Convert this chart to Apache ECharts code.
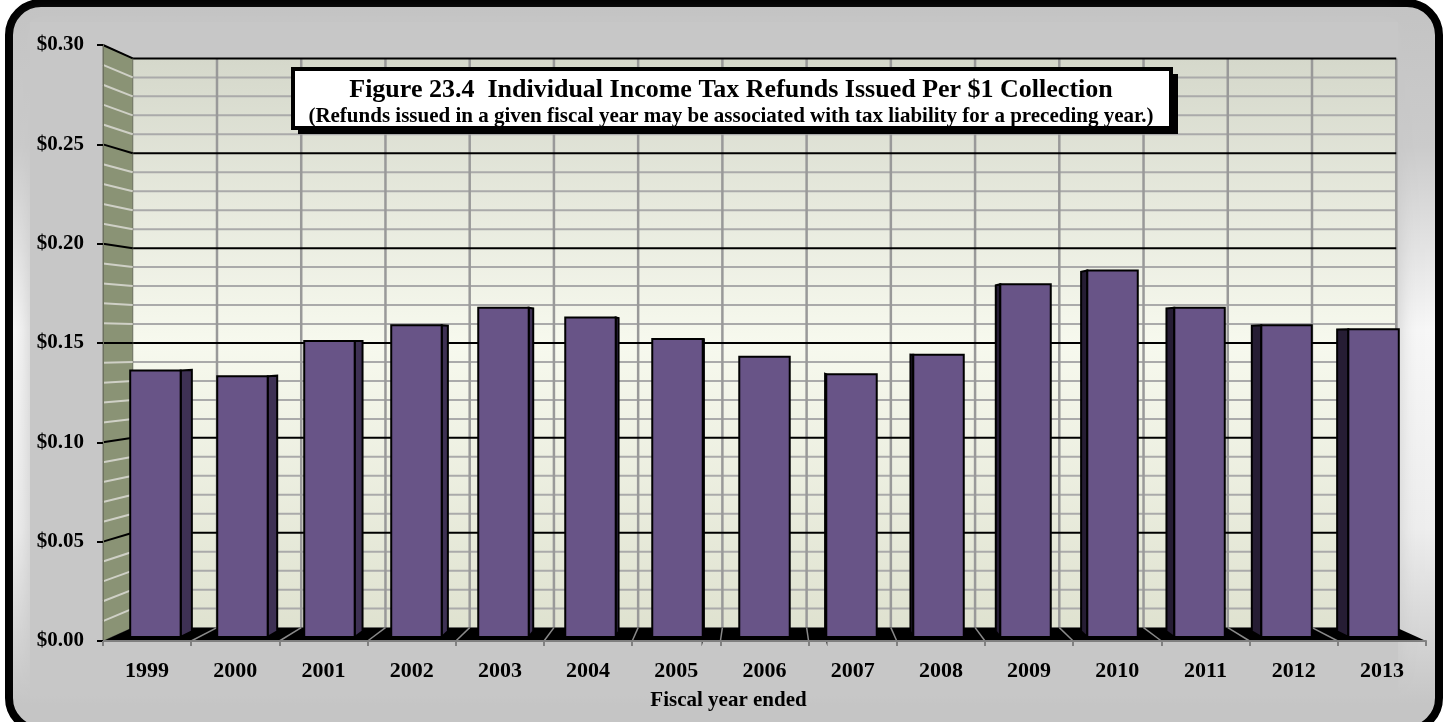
<!DOCTYPE html>
<html>
<head>
<meta charset="utf-8">
<script src="https://cdn.jsdelivr.net/npm/echarts@6/dist/echarts.min.js"></script>
<style>
  html, body { margin: 0; padding: 0; background: #ffffff; }
  #chart { width: 1446px; height: 722px; }
</style>
</head>
<body>
<div id="chart"></div>
<script>
// ---- data ----
const years = ['1999', '2000', '2001', '2002', '2003', '2004', '2005', '2006',
               '2007', '2008', '2009', '2010', '2011', '2012', '2013'];
const refundsPerDollar = [0.136, 0.133, 0.151, 0.159, 0.168, 0.163, 0.152, 0.143,
                          0.134, 0.144, 0.180, 0.187, 0.168, 0.159, 0.157];
const yMin = 0;
const yMax = 0.30;
const yMajorStep = 0.05;
const yMinorStep = 0.01;
const titleText = 'Figure 23.4  Individual Income Tax Refunds Issued Per $1 Collection';
const subtitleText = '(Refunds issued in a given fiscal year may be associated with tax liability for a preceding year.)';
const xAxisName = 'Fiscal year ended';

// ---- 3-D box styling ----
const SERIF = "'Liberation Serif', 'Times New Roman', serif";
const BACK_SCALE = 0.955;   // back wall size relative to the front plane
const BAR_DEPTH_FRONT = 0.30;
const BAR_DEPTH_BACK = 0.72;
const BAR_WIDTH_RATIO = 0.58;

// perspective toward the centre of the plot
function project(pt, depth, vp) {
  const s = 1 - (1 - BACK_SCALE) * depth;
  return [vp[0] + (pt[0] - vp[0]) * s, vp[1] + (pt[1] - vp[1]) * s];
}

function vanishingPoint(cs) {
  return [cs.x + cs.width / 2, cs.y + cs.height / 2];
}

function renderWalls(params, api) {
  const cs = params.coordSys;
  const L = cs.x, R = cs.x + cs.width, T = cs.y, B = cs.y + cs.height;
  const vp = vanishingPoint(cs);
  const back = p => project(p, 1, vp);
  const band = api.size([1, 0])[0];
  const n = years.length;
  const children = [];
  const line = (a, b, stroke, lw) => ({
    type: 'line', shape: { x1: a[0], y1: a[1], x2: b[0], y2: b[1] },
    style: { stroke: stroke, lineWidth: lw }
  });

  // back wall
  const bTL = back([L, T]), bBR = back([R, B]);
  children.push({
    type: 'rect',
    shape: { x: bTL[0], y: bTL[1], width: bBR[0] - bTL[0], height: bBR[1] - bTL[1] },
    style: {
      fill: new echarts.graphic.LinearGradient(0, 0, 0, 1, [
        { offset: 0, color: '#d5d8cb' },
        { offset: 0.5, color: '#f7f9ee' },
        { offset: 1, color: '#dfe2d0' }
      ])
    }
  });

  const minorCount = Math.round((yMax - yMin) / yMinorStep);
  const perMajor = Math.round(yMajorStep / yMinorStep);
  const levels = [];
  for (let k = 1; k <= minorCount; k++) {
    const v = yMin + k * yMinorStep;
    levels.push({ y: api.coord([0, v])[1], major: k % perMajor === 0 });
  }

  // back wall gridlines
  levels.filter(l => !l.major).forEach(l => {
    children.push(line(back([L, l.y]), back([R, l.y]), '#aaaaaa', 2));
  });
  for (let i = 1; i <= n; i++) {
    const x = L + i * band;
    children.push(line(back([x, T]), back([x, B]), '#999999', 2.5));
  }
  levels.filter(l => l.major).forEach(l => {
    children.push(line(back([L, l.y]), back([R, l.y]), '#000000', 2));
  });

  // left side wall
  children.push({
    type: 'polygon',
    shape: { points: [[L, T], back([L, T]), back([L, B]), [L, B]] },
    style: { fill: '#8a9375', stroke: '#6c705f', lineWidth: 1 }
  });
  levels.filter(l => !l.major).forEach(l => {
    children.push(line([L, l.y], back([L, l.y]), '#cfd0c6', 2));
  });
  levels.filter(l => l.major).forEach(l => {
    children.push(line([L, l.y], back([L, l.y]), '#000000', 2));
  });

  // floor
  children.push({
    type: 'polygon',
    shape: { points: [[L, B], [R, B], back([R, B]), back([L, B])] },
    style: { fill: '#000000' }
  });
  for (let i = 1; i < n; i++) {
    const x = L + i * band;
    children.push(line([x, B], back([x, B]), '#8a8a8a', 1.5));
  }

  return { type: 'group', children: children };
}

function renderBar(params, api) {
  const cs = params.coordSys;
  const vp = vanishingPoint(cs);
  const i = api.value(0);
  const v = api.value(1);
  const band = api.size([1, 0])[0];
  const top = api.coord([i, v]);
  const base = api.coord([i, yMin]);
  const hw = band * BAR_WIDTH_RATIO / 2;
  const xl = top[0] - hw, xr = top[0] + hw, yt = top[1], yb = base[1];
  const P = (x, y, d) => project([x, y], d, vp);
  const d1 = BAR_DEPTH_FRONT, d2 = BAR_DEPTH_BACK;
  const edge = { stroke: '#000000', lineWidth: 2, lineJoin: 'miter' };
  const children = [];

  // the visible side face depends on which side of the vanishing point the bar sits
  if (xr < vp[0]) {
    children.push({
      type: 'polygon',
      shape: { points: [P(xr, yt, d1), P(xr, yt, d2), P(xr, yb, d2), P(xr, yb, d1)] },
      style: Object.assign({ fill: '#3e3154' }, edge)
    });
  } else if (xl > vp[0]) {
    children.push({
      type: 'polygon',
      shape: { points: [P(xl, yt, d1), P(xl, yt, d2), P(xl, yb, d2), P(xl, yb, d1)] },
      style: Object.assign({ fill: '#261d34' }, edge)
    });
  }
  children.push({
    type: 'polygon',
    shape: { points: [P(xl, yt, d1), P(xr, yt, d1), P(xr, yb, d1), P(xl, yb, d1)] },
    style: Object.assign({ fill: '#685487' }, edge)
  });
  return { type: 'group', children: children };
}

const chart = echarts.init(document.getElementById('chart'));

const option = {
  animation: false,
  backgroundColor: '#ffffff',
  graphic: [
    {
      type: 'rect', z: -20, silent: true,
      shape: { x: 9, y: 3, width: 1430, height: 727, r: 32 },
      style: {
        fill: new echarts.graphic.LinearGradient(0, 0, 0, 1, [
          { offset: 0, color: '#c3c3c3' },
          { offset: 0.2, color: '#cbcbcb' },
          { offset: 0.45, color: '#f7f7f7' },
          { offset: 0.72, color: '#eeeeee' },
          { offset: 0.96, color: '#c5c5c5' }
        ]),
        stroke: '#000000', lineWidth: 8
      }
    },
    {
      type: 'rect', z: -19, silent: true,
      shape: { x: 30, y: 22, width: 1368, height: 672 },
      style: { fill: '#c7c7c7', shadowBlur: 18, shadowColor: '#c7c7c7' }
    },
    // title box: solid drop shadow, then the framed white panel
    {
      type: 'rect', z: 100, silent: true,
      shape: { x: 298, y: 74, width: 880, height: 60 },
      style: { fill: '#000000' }
    },
    {
      type: 'rect', z: 101, silent: true,
      shape: { x: 293, y: 69, width: 878, height: 59 },
      style: { fill: '#ffffff', stroke: '#000000', lineWidth: 4 }
    },
    {
      type: 'text', z: 102, silent: true,
      x: 731, y: 90,
      style: {
        text: titleText, align: 'center', verticalAlign: 'middle',
        font: 'bold 26px ' + SERIF, fill: '#000000'
      }
    },
    {
      type: 'text', z: 102, silent: true,
      x: 731, y: 117,
      style: {
        text: subtitleText, align: 'center', verticalAlign: 'middle',
        font: 'bold 21px ' + SERIF, fill: '#000000'
      }
    }
  ],
  grid: { left: 103, right: 20, top: 45, bottom: 81, containLabel: false },
  xAxis: {
    type: 'category',
    data: years,
    boundaryGap: true,
    z: 5,
    axisLine: { show: true, lineStyle: { color: '#808080', width: 2 } },
    axisTick: { show: true, length: 5, lineStyle: { color: '#808080', width: 2 } },
    axisLabel: {
      margin: 19, color: '#000000', fontFamily: SERIF, fontWeight: 'bold', fontSize: 22
    },
    splitLine: { show: false },
    name: xAxisName,
    nameLocation: 'middle',
    nameGap: 49,
    nameTextStyle: {
      color: '#000000', fontFamily: SERIF, fontWeight: 'bold', fontSize: 21,
      padding: [0, 72, 0, 0]
    }
  },
  yAxis: {
    type: 'value',
    min: yMin,
    max: yMax,
    interval: yMajorStep,
    z: 5,
    axisLine: { show: true, lineStyle: { color: '#6c705f', width: 1 } },
    axisTick: { show: true, inside: false, length: 6, lineStyle: { color: '#000000', width: 2 } },
    axisLabel: {
      margin: 19, color: '#000000', fontFamily: SERIF, fontWeight: 'bold', fontSize: 21,
      formatter: v => '$' + v.toFixed(2)
    },
    splitLine: { show: false }
  },
  series: [
    {
      type: 'custom',
      name: 'walls',
      z: 1,
      silent: true,
      renderItem: renderWalls,
      data: [[0, 0]]
    },
    {
      type: 'custom',
      name: 'Refunds per $1 collection',
      z: 3,
      renderItem: renderBar,
      encode: { x: 0, y: 1 },
      data: refundsPerDollar.map((v, i) => [i, v])
    }
  ]
};

chart.setOption(option);
</script>
</body>
</html>
